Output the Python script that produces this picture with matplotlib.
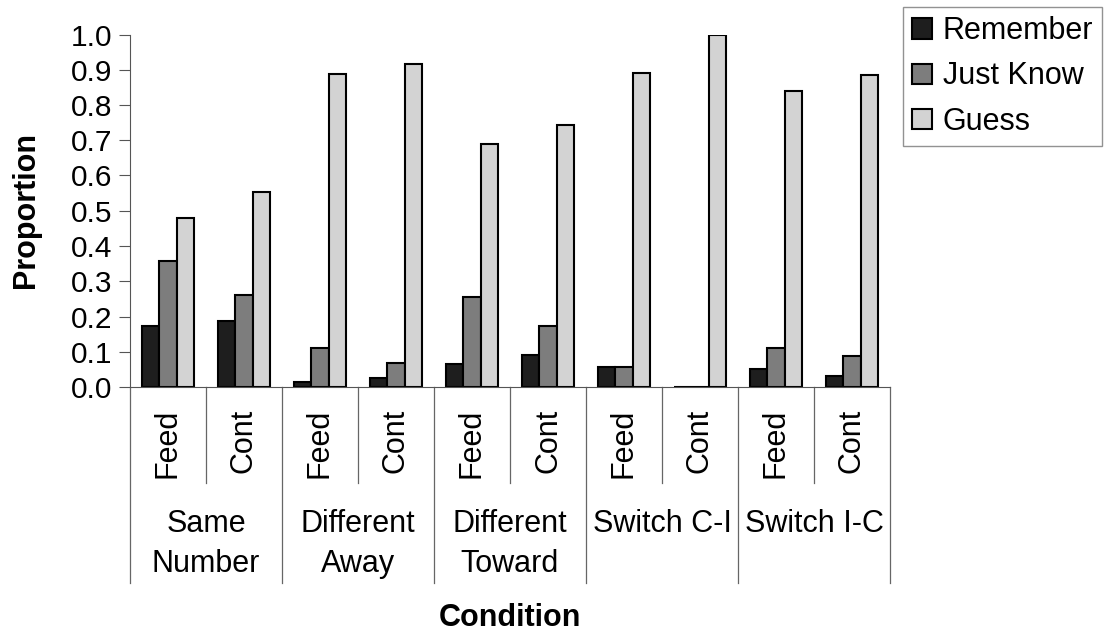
import matplotlib
matplotlib.use('Agg')
import matplotlib.pyplot as plt
import numpy as np

plt.rcParams['font.family'] = ['Liberation Sans', 'DejaVu Sans']

# data
conditions = ['Same\nNumber', 'Different\nAway', 'Different\nToward', 'Switch C-I', 'Switch I-C']
sub_labels = ['Feed', 'Cont'] * 5
remember = [0.173, 0.188, 0.014, 0.026, 0.065, 0.091, 0.058, 0.0, 0.051, 0.030]
just_know = [0.358, 0.260, 0.112, 0.068, 0.255, 0.173, 0.058, 0.0, 0.111, 0.089]
guess = [0.479, 0.554, 0.887, 0.916, 0.688, 0.744, 0.892, 1.0, 0.841, 0.884]

W, H = 1109, 635
fig = plt.figure(figsize=(W / 100, H / 100), dpi=100)
ax = fig.add_axes([130 / W, 1 - 387 / H, 760 / W, 352.5 / H])

fs = 22
x = np.arange(len(sub_labels)) + 0.5
bw = 0.23
ax.bar(x - bw, remember, bw, color='#1e1e1e', edgecolor='black', linewidth=1.5, label='Remember')
ax.bar(x, just_know, bw, color='#7d7d7d', edgecolor='black', linewidth=1.5, label='Just Know')
ax.bar(x + bw, guess, bw, color='#d3d3d3', edgecolor='black', linewidth=1.5, label='Guess')

ax.set_xlim(0, len(sub_labels))
ax.set_ylim(0, 1.0)
ax.set_yticks(np.arange(0, 1.01, 0.1))
ax.set_yticklabels(['%.1f' % v for v in np.arange(0, 1.01, 0.1)], fontsize=21.5)
ax.set_xticks([])
for s in ['top', 'right']:
    ax.spines[s].set_visible(False)
ax.spines['left'].set_color('#555555')
ax.spines['bottom'].set_color('#555555')
ax.tick_params(axis='y', direction='out', length=8, color='#555555', pad=5)

# two level category axis
def yf(px):
    return (387 - px) / 352.5

tr = ax.get_xaxis_transform()
for i in range(len(sub_labels) + 1):
    y_end = yf(583) if i % 2 == 0 else yf(483)
    ax.plot([i, i], [0, y_end], color='#666666', lw=0.9, transform=tr, clip_on=False)
for xi, lab in zip(x, sub_labels):
    ax.text(xi, yf(409), lab, rotation=90, ha='center', va='top', fontsize=fs, transform=tr)
for gi, lab in enumerate(conditions):
    ax.text(2 * gi + 1, yf(509), lab, ha='center', va='top', fontsize=fs,
            linespacing=1.45, transform=tr)

ax.text(0.5, yf(618), 'Condition', ha='center', va='center', fontsize=fs,
        fontweight='bold', transform=ax.transAxes)
fig.text(26 / W, 1 - 210 / H, 'Proportion', rotation=90, ha='center', va='center',
         fontsize=fs, fontweight='bold')

leg = fig.legend(loc='upper left', bbox_to_anchor=(903 / W, 1 - 7 / H), fontsize=fs,
                 frameon=True, fancybox=False, borderaxespad=0, handlelength=0.65,
                 handleheight=0.65, handletextpad=0.35, labelspacing=0.5, borderpad=0.3)
leg.get_frame().set_edgecolor('#777777')
leg.get_frame().set_linewidth(1.0)

fig.savefig('out.png', dpi=100)
